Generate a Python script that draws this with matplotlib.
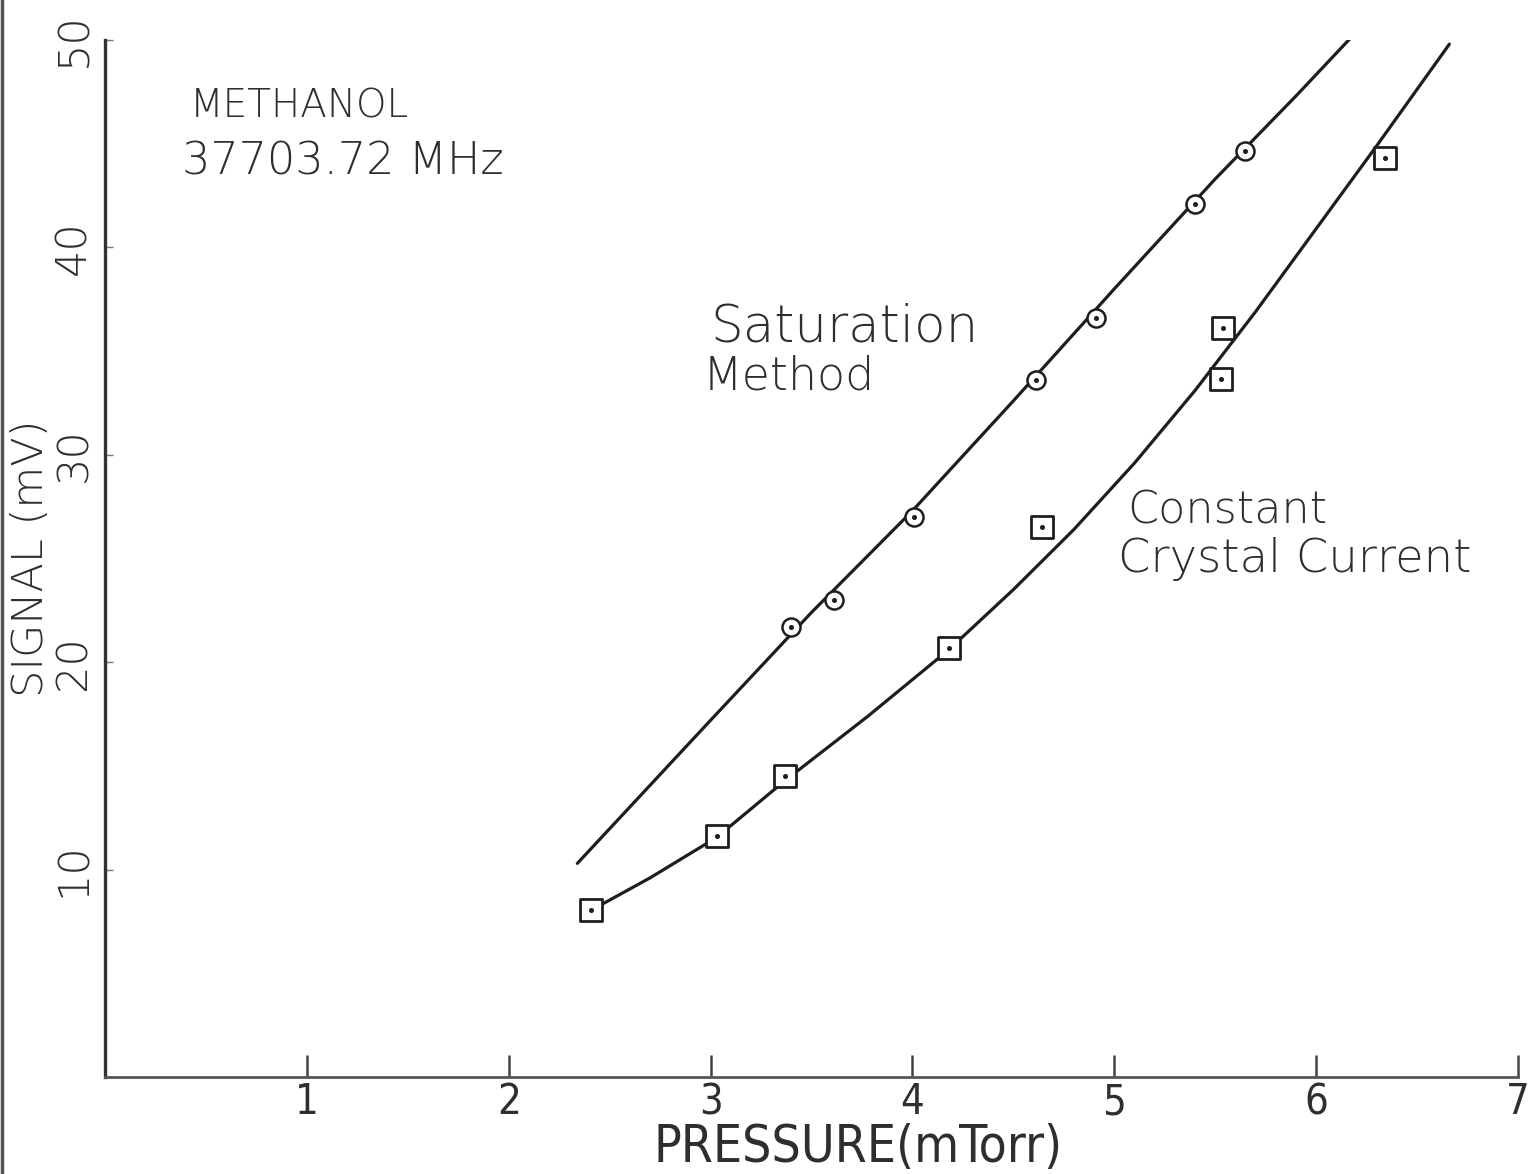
import matplotlib
matplotlib.use("Agg")
import matplotlib.pyplot as plt
from matplotlib.lines import Line2D
from matplotlib.markers import MarkerStyle

# Saturation method: measured points
sat_p = [3.40, 3.61, 4.01, 4.61, 4.91, 5.40, 5.65]
sat_s = [21.7, 23.0, 27.0, 33.6, 36.6, 42.1, 44.65]
# Saturation method: hand-drawn curve
sat_curve_p = [2.34, 3.00, 3.50, 4.00, 4.50, 5.00, 5.50, 5.90, 6.20]
sat_curve_s = [10.3, 17.2, 22.4, 27.3, 32.6, 38.0, 43.3, 47.3, 50.4]

# Constant crystal current: measured points
ccc_p = [2.41, 3.03, 3.37, 4.18, 4.64, 5.53, 5.54, 6.34]
ccc_s = [8.05, 11.6, 14.5, 20.7, 26.5, 33.65, 36.1, 44.3]
# Constant crystal current: hand-drawn curve
ccc_curve_p = [2.41, 2.70, 3.03, 3.37, 3.78, 4.18, 4.50, 4.80, 5.10, 5.40,
               5.70, 6.00, 6.30, 6.66]
ccc_curve_s = [8.05, 9.6, 11.55, 14.3, 17.4, 20.6, 23.5, 26.4, 29.6, 33.1,
               36.9, 40.9, 44.9, 49.8]

x_ticks = [1, 2, 3, 4, 5, 6, 7]
y_ticks = [10, 20, 30, 40, 50]

INK = "#1e1e1e"
TXT = "#2e2e2e"
FONT = "DejaVu Sans"

fig = plt.figure(figsize=(15.33, 11.74), dpi=100)
fig.patch.set_facecolor("white")
W, H = 1533.0, 1174.0

ax = fig.add_axes([105 / W, (H - 1077) / H, (1518 - 105) / W, (1077 - 40) / H])
ax.set_xlim(0, 7)
ax.set_ylim(0, 50)
ax.patch.set_alpha(0)

for s in ("top", "right"):
    ax.spines[s].set_visible(False)
ax.spines["left"].set_linewidth(2.4)
ax.spines["left"].set_color("#333333")
ax.spines["bottom"].set_linewidth(2.0)
ax.spines["bottom"].set_color("#555555")

# curves
for cp, cs in ((sat_curve_p, sat_curve_s), (ccc_curve_p, ccc_curve_s)):
    ax.plot(cp, cs, color=INK, lw=2.3, solid_capstyle="round",
            solid_joinstyle="round", zorder=2)

# markers: open symbol with a centre dot
ax.plot(sat_p, sat_s, ls="none", marker="o", ms=13, mfc="white", mec=INK,
        mew=1.8, zorder=3)
ax.plot(sat_p, sat_s, ls="none", marker="o", ms=2.6, mfc=INK, mec=INK, zorder=4)
sq = MarkerStyle("s", joinstyle="round")
ax.plot(ccc_p, ccc_s, ls="none", marker=sq, ms=16.5, mfc="white", mec=INK,
        mew=2.0, zorder=3)
ax.plot(ccc_p, ccc_s, ls="none", marker="o", ms=2.6, mfc=INK, mec=INK, zorder=4)

# ticks
ax.set_xticks(x_ticks)
ax.set_yticks(y_ticks)
ax.tick_params(axis="x", direction="in", length=16, width=1.8, color="#444444",
               pad=3, labelsize=30, labelcolor=TXT)
ax.tick_params(axis="y", direction="in", length=6, width=1.0, color="#777777",
               pad=8, labelsize=31, labelcolor=TXT)
for lab in ax.get_xticklabels():
    lab.set_fontfamily(FONT)
    lab.set_fontstretch("condensed")
    lab.set_fontweight("light")
for lab in ax.get_yticklabels():
    lab.set_rotation(90)
    lab.set_va("center")
    lab.set_fontfamily(FONT)
    lab.set_fontweight("light")

ax.set_xlabel("PRESSURE(mTorr)", fontsize=37, color=TXT, family=FONT,
              stretch="condensed", weight="light")
ax.xaxis.set_label_coords((858 - 105) / 1413, -0.044)
ax.set_ylabel("SIGNAL (mV)", fontsize=31, color=TXT, family=FONT,
              weight="light", labelpad=1)

def ftext(px, py, s, size):
    fig.text(px / W, 1 - py / H, s, fontsize=size, color=TXT, family=FONT,
             weight="light", va="baseline", ha="left")

ftext(190, 118, "METHANOL", 28)
ftext(182, 175, "37703.72 MHz", 32)
ftext(710, 342, "Saturation", 37)
ftext(703, 390, "Method", 33)
ftext(1127, 523, "Constant", 32)
ftext(1118, 572, "Crystal Current", 33.5)

# scanned page edge
fig.add_artist(Line2D([1.5 / W, 1.5 / W], [0, 1], transform=fig.transFigure,
                      color="#555555", lw=2.5))

fig.savefig("out.png", dpi=100, facecolor="white")
